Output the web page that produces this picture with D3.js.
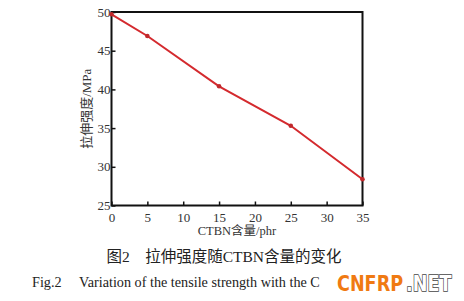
<!DOCTYPE html>
<html><head><meta charset="utf-8">
<script src="https://cdn.jsdelivr.net/npm/d3@7"></script>
<style>
body{margin:0;background:#fff;}
svg{display:block;}
</style></head>
<body>
<svg id="c" width="464" height="301"></svg>
<script>
const ctbn = [0, 5, 15, 25, 35];
const strength = [49.7, 46.9, 40.4, 35.3, 28.4];
const xTicks = [0, 5, 10, 15, 20, 25, 30, 35];
const yTicks = [25, 30, 35, 40, 45, 50];
const yLabel = "拉伸强度/MPa";
const xLabel = "CTBN含量/phr";
const captionCn = "图2　拉伸强度随CTBN含量的变化";
const captionEn = "Fig.2　 Variation of the tensile strength with the C";
const watermark = ["CNFRP", ".NET"];

const serif = "'Liberation Serif','DejaVu Serif','Noto Sans CJK SC',serif";
const svg = d3.select("#c");
const L = 111.5, R = 362.5, T = 12, B = 205.5;
const x = d3.scaleLinear().domain([0, 35]).range([L, R]);
const y = d3.scaleLinear().domain([25, 50]).range([B, T]);

const gx = svg.append("g").attr("transform", `translate(0,${B})`)
  .call(d3.axisBottom(x).tickValues(xTicks).tickSize(-4).tickPadding(7));
const gy = svg.append("g").attr("transform", `translate(${L},0)`)
  .call(d3.axisLeft(y).tickValues(yTicks).tickSize(-4).tickPadding(1));
[gx, gy].forEach(g => {
  g.select(".domain").remove();
  g.selectAll("line").attr("stroke", "#111").attr("stroke-width", 1.5);
  g.selectAll("text").attr("font-family", serif).attr("font-size", 13).attr("fill", "#333");
});

svg.append("rect").attr("x", L).attr("y", T).attr("width", R - L).attr("height", B - T)
  .attr("fill", "none").attr("stroke", "#111").attr("stroke-width", 2);

const pts = ctbn.map((c, i) => [c, strength[i]]);
svg.append("path").datum(pts)
  .attr("d", d3.line().x(d => x(d[0])).y(d => y(d[1])))
  .attr("fill", "none").attr("stroke", "#d42a2e").attr("stroke-width", 2);
svg.selectAll(".pt").data(pts).enter().append("circle")
  .attr("cx", d => x(d[0])).attr("cy", d => y(d[1])).attr("r", 2.3)
  .attr("fill", "#c0282b");

svg.append("text").attr("transform", `translate(91,${(T + B) / 2}) rotate(-90)`)
  .attr("text-anchor", "middle").attr("font-family", serif).attr("font-size", 13)
  .attr("fill", "#333").text(yLabel);
svg.append("text").attr("x", (L + R) / 2).attr("y", 235)
  .attr("text-anchor", "middle").attr("font-family", serif).attr("font-size", 12.5)
  .attr("fill", "#333").text(xLabel);
svg.append("text").attr("x", 224).attr("y", 262)
  .attr("text-anchor", "middle").attr("font-family", serif).attr("font-size", 15.5)
  .attr("fill", "#222").text(captionCn);
svg.append("text").attr("x", 32).attr("y", 287)
  .attr("font-family", serif).attr("font-size", 14.2)
  .attr("fill", "#222").text(captionEn);

// watermark
const wmFont = "'DejaVu Sans','Liberation Sans',sans-serif";
svg.append("text").attr("transform", "translate(337,291) scale(0.8,1)")
  .attr("font-family", wmFont).attr("font-weight", "bold").attr("font-size", 22)
  .attr("fill", "#f07a12").attr("stroke", "#fff").attr("stroke-width", 1).attr("paint-order", "stroke")
  .text(watermark[0]);
svg.append("text").attr("transform", "translate(406,291) scale(0.8,1)")
  .attr("font-family", wmFont).attr("font-weight", "bold").attr("font-size", 22)
  .attr("fill", "#fff").attr("stroke", "#444").attr("stroke-width", 1.6).attr("paint-order", "stroke")
  .text(watermark[1]);
</script>
</body></html>
